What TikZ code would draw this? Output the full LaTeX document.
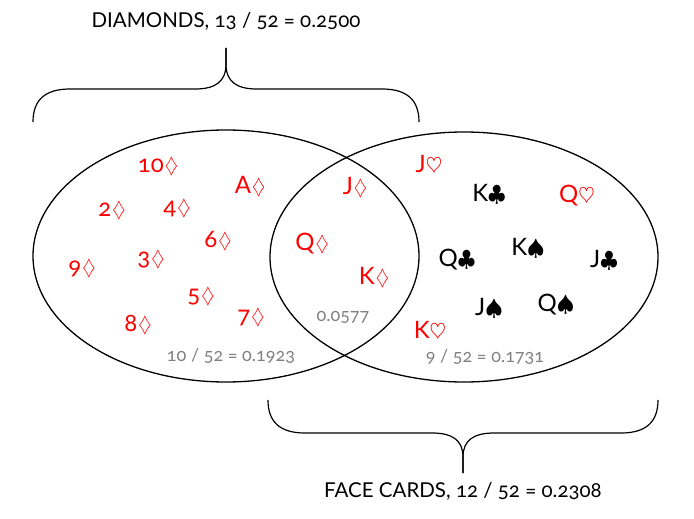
\documentclass[tikz,border=0pt]{standalone}
\usepackage{fontspec}
\setmainfont{Lato}[Numbers=OldStyle]
\newcommand{\dsuit}{\kern1pt\scalebox{0.68}[0.85]{$\diamondsuit$}}
\newcommand{\hsuit}{\scalebox{0.85}{$\heartsuit$}}
\newcommand{\csuit}{\scalebox{0.9}{$\clubsuit$}}
\newcommand{\ssuit}{\scalebox{0.9}{$\spadesuit$}}
\begin{document}
\begin{tikzpicture}[x=1pt, y=-1pt,
    card/.style={red, inner sep=0pt, font=\fontsize{24}{26}\selectfont},
    blackcard/.style={card, black},
    prob/.style={gray, inner sep=0pt, font=\fontsize{18}{20}\selectfont},
    setname/.style={inner sep=0pt, font=\fontsize{20.5}{22}\selectfont},
    brace/.style={line width=1.2pt}]
  \useasboundingbox (0,0) rectangle (694,519);
  % the two sets
  \draw[line width=1.3pt] (226,256) ellipse [x radius=193, y radius=126];
  \draw[line width=1.3pt] (464,257) ellipse [x radius=194, y radius=125];
  % braces
  \coordinate (dtip) at (226,48);
  \coordinate (ftip) at (463,473);
  \draw[brace] (33,122) .. controls (33,100) and (45,89) .. (70,89) -- (195,89)
    .. controls (215,89) and (226,82) .. (226,64) -- (dtip);
  \draw[brace] (dtip) -- (226,64) .. controls (226,82) and (237,89) .. (257,89)
    -- (382,89) .. controls (407,89) and (419,100) .. (419,122);
  \draw[brace] (268,400) .. controls (268,422) and (280,433) .. (305,433) -- (432,433)
    .. controls (452,433) and (463,440) .. (463,457) -- (ftip);
  \draw[brace] (ftip) -- (463,457) .. controls (463,440) and (474,433) .. (494,433)
    -- (621,433) .. controls (646,433) and (658,422) .. (658,400);
  \node[setname] (diamonds) at (226,21) {DIAMONDS, 13 / 52 = 0.2500};
  \node[setname] (faces) at (463,491) {FACE CARDS, 12 / 52 = 0.2308};
  % diamonds only
  \node[card] (d10) at (158,167) {10\dsuit};
  \node[card] (dA) at (250,186) {A\dsuit};
  \node[card] (d2) at (112,211) {2\dsuit};
  \node[card] (d4) at (177,209) {4\dsuit};
  \node[card] (d6) at (218,241) {6\dsuit};
  \node[card] (d9) at (82,269) {9\dsuit};
  \node[card] (d3) at (151,260) {3\dsuit};
  \node[card] (d5) at (201,297) {5\dsuit};
  \node[card] (d7) at (251,318) {7\dsuit};
  \node[card] (d8) at (138,325) {8\dsuit};
  \node[prob] (pdiam) at (231,356) {10 / 52 = 0.1923};
  % both
  \node[card] (dJ) at (355,187) {J\dsuit};
  \node[card] (dQ) at (312,244) {Q\dsuit};
  \node[card] (dK) at (374,277) {K\dsuit};
  \node[prob] (pboth) at (343,317) {0.0577};
  % face cards only
  \node[card] (hJ) at (429,165) {J\hsuit};
  \node[blackcard] (cK) at (489,194) {K\csuit};
  \node[card] (hQ) at (577,196) {Q\hsuit};
  \node[blackcard] (sK) at (528,248) {K\ssuit};
  \node[blackcard] (cQ) at (457,260) {Q\csuit};
  \node[blackcard] (cJ) at (604,260) {J\csuit};
  \node[blackcard] (sJ) at (489,308) {J\ssuit};
  \node[blackcard] (sQ) at (556,305) {Q\ssuit};
  \node[card] (hK) at (430,331) {K\hsuit};
  \node[prob] (pface) at (485,357) {9 / 52 = 0.1731};
\end{tikzpicture}
\end{document}
